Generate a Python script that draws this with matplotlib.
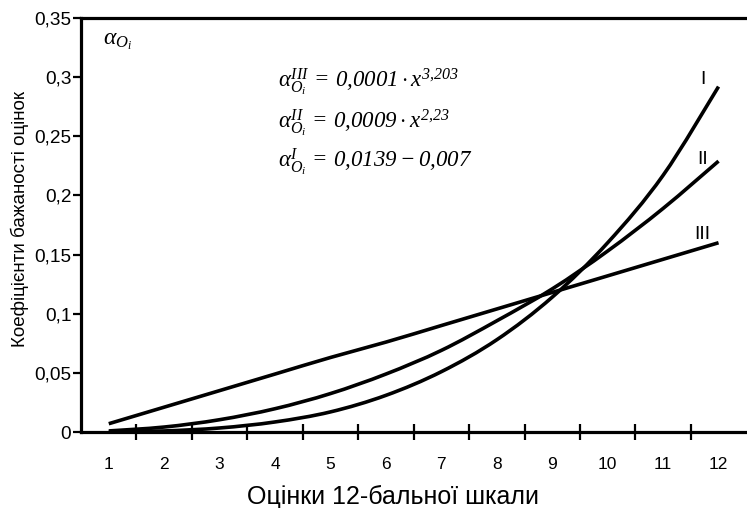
import matplotlib
matplotlib.use("Agg")
import matplotlib.pyplot as plt
from matplotlib.path import Path
from matplotlib.patches import PathPatch

plt.rcParams['font.family'] = ['Liberation Sans', 'DejaVu Sans']
plt.rcParams['mathtext.fontset'] = 'custom'
plt.rcParams['mathtext.rm'] = 'Liberation Serif:italic'
plt.rcParams['mathtext.it'] = 'Liberation Serif:italic'

# оцінки 12-бальної шкали
grades = [1, 2, 3, 4, 5, 6, 7, 8, 9, 10, 11, 12]
# коефіцієнти бажаності
curve_I = [0.0001, 0.0009, 0.0034, 0.0085, 0.017, 0.031, 0.051, 0.078, 0.114, 0.160, 0.217, 0.292]
curve_II = [0.0009, 0.0042, 0.0104, 0.0197, 0.0325, 0.049, 0.069, 0.094, 0.121, 0.153, 0.189, 0.229]
curve_III = [0.007, 0.021, 0.035, 0.049, 0.063, 0.076, 0.090, 0.104, 0.118, 0.132, 0.146, 0.160]
curve_names = ['I', 'II', 'III']
yticks = [0, 0.05, 0.1, 0.15, 0.2, 0.25, 0.3, 0.35]
ytick_labels = ['0', '0,05', '0,1', '0,15', '0,2', '0,25', '0,3', '0,35']


def smooth_path(xs, ys):
    # згладжена лінія через точки (як у Excel), без додавання нових даних
    pts = list(zip(xs, ys))
    verts = [pts[0]]
    codes = [Path.MOVETO]
    n = len(pts)
    for i in range(n - 1):
        p0 = pts[i - 1] if i > 0 else pts[i]
        p1 = pts[i]
        p2 = pts[i + 1]
        p3 = pts[i + 2] if i + 2 < n else pts[i + 1]
        c1 = (p1[0] + (p2[0] - p0[0]) / 6, p1[1] + (p2[1] - p0[1]) / 6)
        c2 = (p2[0] - (p3[0] - p1[0]) / 6, p2[1] - (p3[1] - p1[1]) / 6)
        verts += [c1, c2, p2]
        codes += [Path.CURVE4] * 3
    return Path(verts, codes)


fig = plt.figure(figsize=(7.47, 5.08), dpi=100)
ax = fig.add_axes([0.1085, 0.1496, 0.8905, 0.815])

for ys in (curve_I, curve_II, curve_III):
    ax.add_patch(PathPatch(smooth_path(grades, ys), facecolor='none',
                           edgecolor='black', lw=2.6))

ax.set_xlim(0.5, 12.5)
ax.set_ylim(0, 0.35)

ax.set_yticks(yticks)
ax.set_yticklabels(ytick_labels)
ax.set_xticks([g + 0.5 for g in grades[:-1]])
ax.set_xticklabels([])
ax.set_xticks(grades, minor=True)
ax.set_xticklabels([str(g) for g in grades], minor=True)

ax.tick_params(axis='y', direction='out', length=6, width=1.6, labelsize=13.7, pad=1)
ax.tick_params(axis='x', which='major', direction='inout', length=11, width=1.6)
ax.tick_params(axis='x', which='minor', length=0, labelsize=12.5, pad=18)

for s in ('left', 'top', 'bottom'):
    ax.spines[s].set_linewidth(2.3)
ax.spines['right'].set_visible(False)

fig.text(393 / 747, 4 / 508, 'Оцінки 12-бальної шкали', fontsize=18,
         ha='center', va='baseline')
fig.text(20 / 747, 1 - 219 / 508, 'Коефіцієнти бажаності оцінок', fontsize=13.5,
         rotation=90, ha='center', va='center')

ax.text(0.9, 0.328, r'$\alpha_{O_i}$', fontsize=17, ha='left', va='baseline')

formulas = [
    r'$\alpha_{O_i}^{III}\, = \,0{,}0001\cdot x^{3{,}203}$',
    r'$\alpha_{O_i}^{II}\, = \,0{,}0009\cdot x^{2{,}23}$',
    r'$\alpha_{O_i}^{I}\, = \,0{,}0139 - 0{,}007$',
]
formula_y = [0.2907, 0.2568, 0.2237]
for f, fy in zip(formulas, formula_y):
    ax.text(4.05, fy, f, fontsize=16.5, ha='left', va='baseline')

label_y = [0.298, 0.2305, 0.167]
for name, ly in zip(curve_names, label_y):
    ax.text(11.71, ly, name, fontsize=14, ha='center', va='center')

fig.savefig('out.png', dpi=100)
